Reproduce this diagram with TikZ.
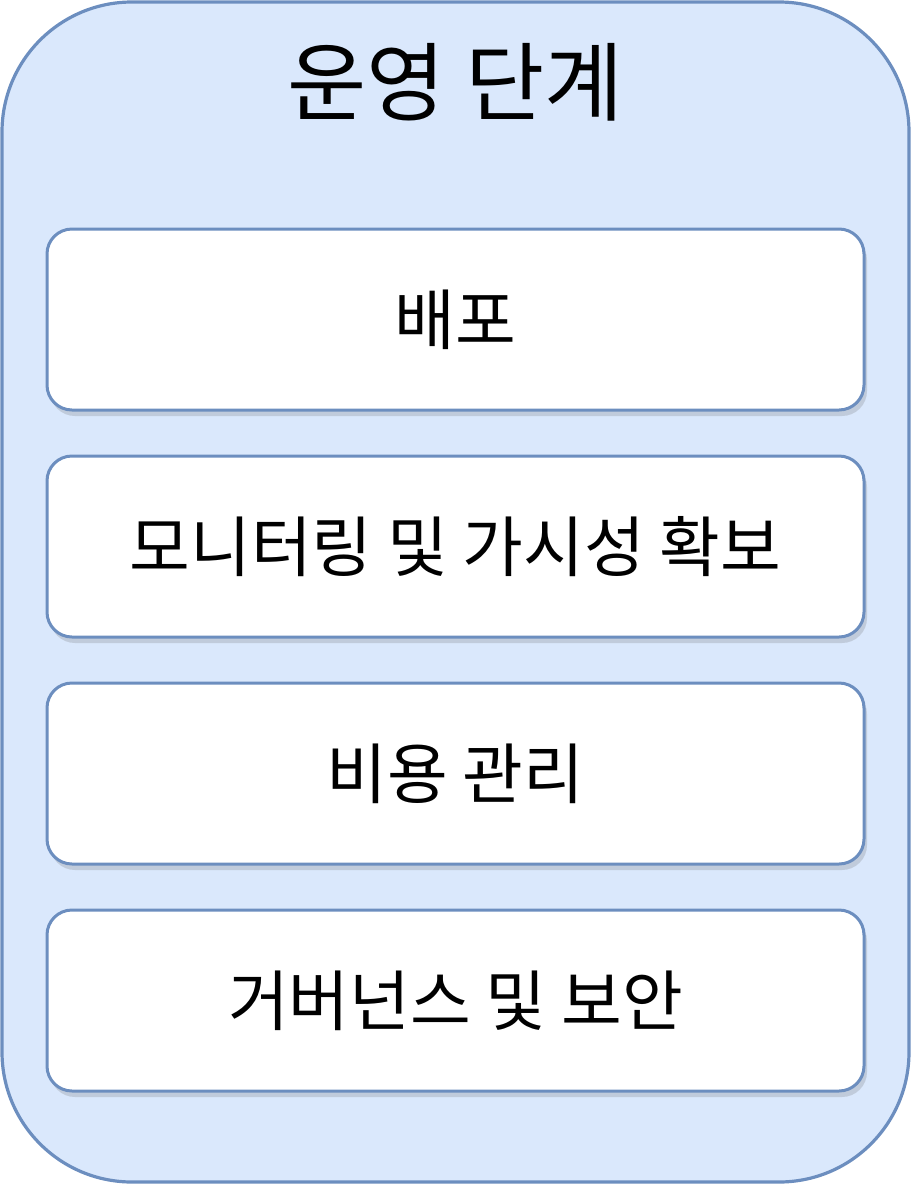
\documentclass[tikz,border=0pt]{standalone}
\usepackage{fontspec}
\newfontfamily\kr{Noto Sans CJK KR}
\usetikzlibrary{shadows}
\definecolor{opsfill}{HTML}{DAE8FC}
\definecolor{opsline}{HTML}{6C8EBF}

\begin{document}
\begin{tikzpicture}[x=0.5pt,y=-0.5pt,
    task/.style={draw=opsline,line width=1.5pt,fill=white,rounded corners=12.5pt,
      minimum width=408.5pt,minimum height=90.5pt,
      font=\kr\fontsize{33}{39}\selectfont,
      drop shadow={shadow xshift=1.5pt,shadow yshift=-3pt,opacity=0.22,fill=black!60}}]
    \useasboundingbox (0,0) rectangle (912,1184);
    \draw[draw=opsline,fill=opsfill,line width=1.6pt,rounded corners=65pt] (2,2) rectangle (909,1182);
    \node[font=\kr\fontsize{43}{51}\selectfont] (T) at (455.5,82) {운영 단계};
    \node[task] (D) at (455.5,319.5) {배포};
    \node[task] (M) at (455.5,546.5) {모니터링 및 가시성 확보};
    \node[task] (C) at (455.5,773.5) {비용 관리};
    \node[task] (G) at (455.5,1000.5) {거버넌스 및 보안};
%    \draw[->] (D) -- (M);
\end{tikzpicture}
\end{document}
